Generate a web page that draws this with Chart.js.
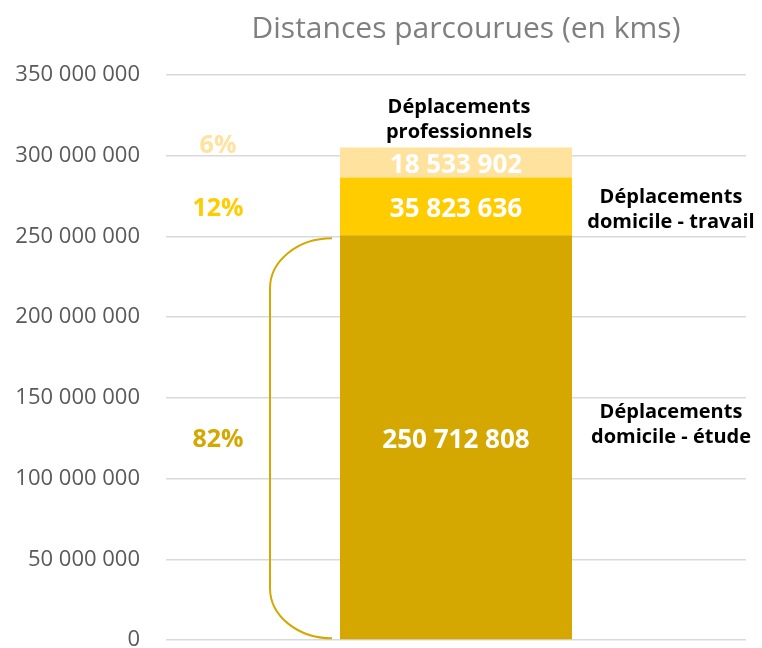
<!DOCTYPE html>
<html lang="fr">
<head>
    <meta charset="UTF-8">
    <title>Distances parcourues</title>
    <script src="https://cdn.jsdelivr.net/npm/chart.js@4.4.1/dist/chart.umd.min.js"></script>
    <style>
        html, body {margin: 0; padding: 0; background: #fff;}
        #wrap {width: 762px; height: 648px;}
    </style>
</head>
<body>
    <div id="wrap">
        <canvas id="distChart" width="762" height="648"></canvas>
    </div>

    <script>
        // données
        const categories = ['Déplacements domicile - étude', 'Déplacements domicile - travail', 'Déplacements professionnels'];
        const labelLines = [['Déplacements', 'domicile - étude'], ['Déplacements', 'domicile - travail'], ['Déplacements', 'professionnels']];
        const distances = [250712808, 35823636, 18533902];
        const colors = ['#D4A800', '#FFCC00', '#FFE29E'];
        const yTicks = [0, 50000000, 100000000, 150000000, 200000000, 250000000, 300000000, 350000000];
        const chartTitle = 'Distances parcourues (en kms)';

        const FONT = '"Open Sans", "Noto Sans", sans-serif';

        function fmt(n) {
            return String(Math.round(n)).replace(/\B(?=(\d{3})+(?!\d))/g, ' ');
        }

        const total = distances.reduce((a, b) => a + b, 0);

        // titre, étiquettes, pourcentages et accolade
        const annotations = {
            id: 'annotations',
            afterDatasetsDraw(chart) {
                const ctx = chart.ctx;
                const area = chart.chartArea;
                ctx.save();
                ctx.textAlign = 'center';
                ctx.textBaseline = 'middle';

                ctx.fillStyle = '#7f7f7f';
                ctx.font = '30px ' + FONT;
                ctx.fillText(chartTitle, (area.left + area.right) / 2 + 10, 29);

                chart.data.datasets.forEach((ds, i) => {
                    const bar = chart.getDatasetMeta(i).data[0];
                    const mid = (bar.y + bar.base) / 2 + 3;

                    // valeur dans la barre
                    ctx.fillStyle = '#ffffff';
                    ctx.font = 'bold 26px ' + FONT;
                    ctx.fillText(fmt(ds.data[0]), bar.x, mid);

                    // pourcentage à gauche
                    ctx.fillStyle = colors[i];
                    ctx.font = 'bold 25px ' + FONT;
                    const pct = Math.round(ds.data[0] / total * 100) + '%';
                    ctx.fillText(pct, area.left + 52, i === 2 ? bar.y - 2 : mid);

                    // nom de la catégorie
                    ctx.fillStyle = '#000000';
                    ctx.font = 'bold 20px ' + FONT;
                    const lines = labelLines[i];
                    let cx, cy;
                    if (i === 2) {
                        cx = bar.x + 3;
                        cy = bar.y - 28;
                    } else {
                        cx = bar.x + bar.width / 2 + 99;
                        cy = mid + (i === 0 ? -15 : 0);
                    }
                    ctx.fillText(lines[0], cx, cy - 12.5);
                    ctx.fillText(lines[1], cx, cy + 12.5);
                });

                // accolade autour du premier segment
                const b0 = chart.getDatasetMeta(0).data[0];
                const xEnd = b0.x - b0.width / 2 - 8;
                const xLine = xEnd - 62;
                const yTop = b0.y + 3;
                const yBot = b0.base - 1;
                const ry = 50;
                ctx.strokeStyle = '#D4A800';
                ctx.lineWidth = 2;
                ctx.beginPath();
                ctx.moveTo(xEnd, yTop);
                ctx.ellipse(xEnd, yTop + ry, xEnd - xLine, ry, 0, -Math.PI / 2, Math.PI, true);
                ctx.lineTo(xLine, yBot - ry);
                ctx.ellipse(xEnd, yBot - ry, xEnd - xLine, ry, 0, Math.PI, Math.PI / 2, true);
                ctx.stroke();

                ctx.restore();
            }
        };

        const ctx = document.getElementById('distChart').getContext('2d');
        const distChart = new Chart(ctx, {
            type: 'bar',
            data: {
                labels: [''],
                datasets: categories.map((name, i) => ({
                    label: name,
                    data: [distances[i]],
                    backgroundColor: colors[i],
                    borderWidth: 0,
                    barPercentage: 1,
                    categoryPercentage: 0.4
                }))
            },
            options: {
                responsive: false,
                animation: false,
                layout: {padding: {top: 75, right: 16, bottom: 8, left: 0}},
                plugins: {
                    legend: {display: false},
                    tooltip: {enabled: false},
                    title: {display: false}
                },
                scales: {
                    x: {
                        display: false,
                        stacked: true
                    },
                    y: {
                        stacked: true,
                        min: 0,
                        max: 350000000,
                        afterFit(scale) { scale.width = 166; },
                        afterBuildTicks(scale) { scale.ticks = yTicks.map(v => ({value: v})); },
                        border: {display: false},
                        // traits de graduation invisibles pour écarter les libellés
                        grid: {color: '#d9d9d9', lineWidth: 1.5, drawTicks: true, tickLength: 26, tickColor: 'rgba(0,0,0,0)'},
                        ticks: {
                            padding: 0,
                            color: '#595959',
                            font: {family: FONT, size: 22, lineHeight: 0.5},
                            callback: v => fmt(v)
                        }
                    }
                }
            },
            plugins: [annotations]
        });
    </script>
</body>
</html>
